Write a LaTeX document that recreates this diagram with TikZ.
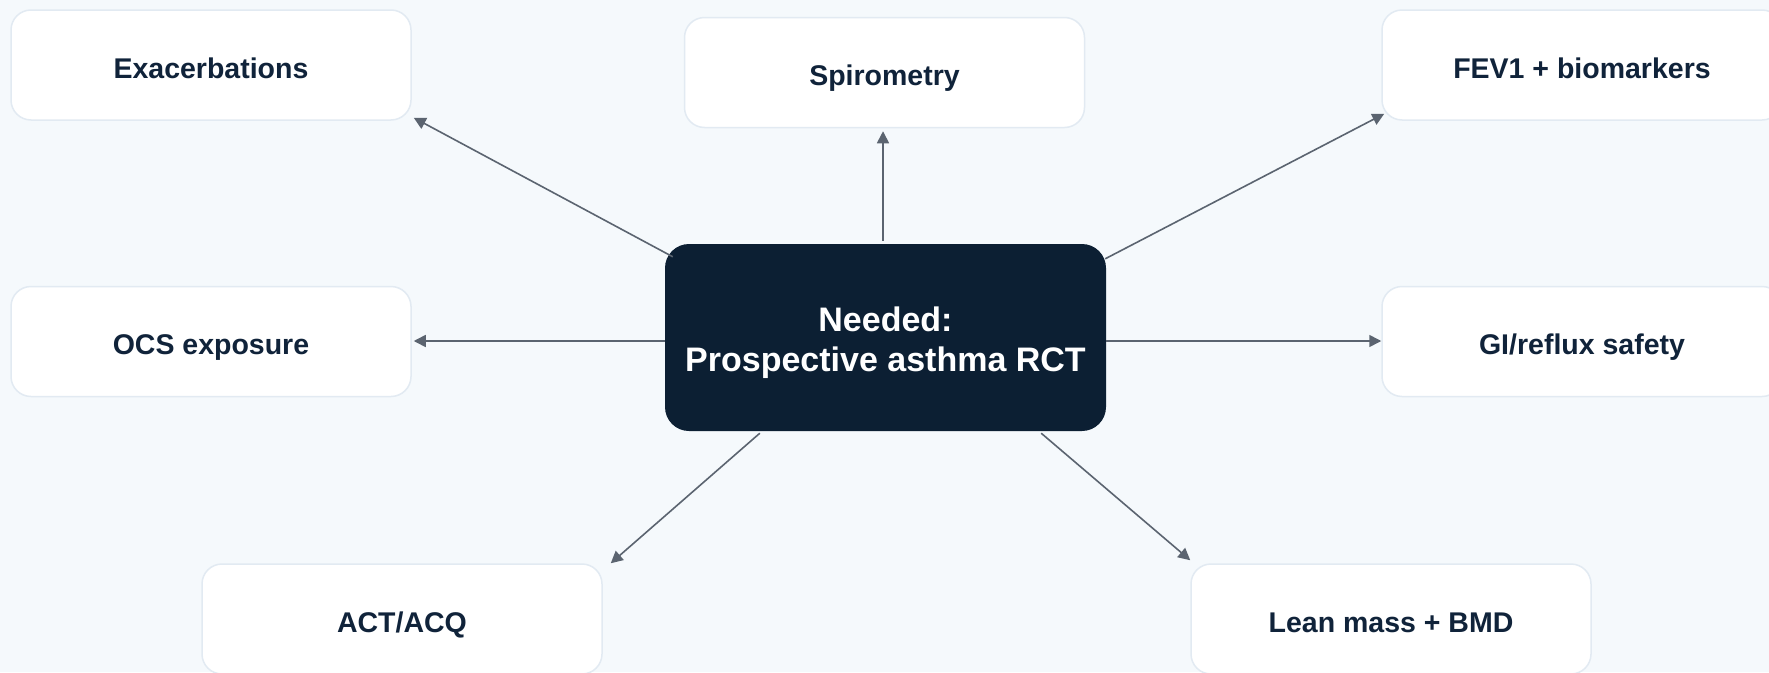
\documentclass[tikz,border=0pt]{standalone}
\usepackage{fontspec}
\setmainfont{Liberation Sans}
\usetikzlibrary{arrows.meta,calc}
\definecolor{bg}{HTML}{F5F9FC}
\definecolor{boxborder}{HTML}{E2EAF2}
\definecolor{navy}{HTML}{0C1F33}
\definecolor{txt}{HTML}{10233A}
\definecolor{arr}{HTML}{5B6470}
\tikzset{
  outbox/.style={draw=boxborder, line width=1.5pt, fill=white, rounded corners=20pt,
    minimum width=400pt, minimum height=110pt, inner sep=0pt, text=txt,
    text height=26pt, text depth=0pt,
    font=\fontsize{28.5}{34}\selectfont\bfseries, align=center},
  hub/.style={fill=navy, rounded corners=24pt, minimum width=441pt, minimum height=187pt,
    inner sep=0pt, text=white, font=\fontsize{34}{40}\selectfont\bfseries, align=center},
  link/.style={draw=arr, line width=1.6pt, -{Triangle[length=12pt,width=12pt]}}
}
\begin{document}
\begin{tikzpicture}[x=1pt,y=-1pt]
\fill[bg] (0,0) rectangle (1769,672);
\useasboundingbox (0,0) rectangle (1769,672);
\node[hub] (c) at (885.5,337.5) {\rule{0pt}{35pt}Needed:\\Prospective asthma RCT};
\node[outbox] (ex) at (211,65) {Exacerbations};
\node[outbox] (sp) at (884.5,72.5) {Spirometry};
\node[outbox] (fev) at (1582,65) {FEV1 + biomarkers};
\node[outbox] (ocs) at (211,341.5) {OCS exposure};
\node[outbox] (gi) at (1582,341.5) {GI/reflux safety};
\node[outbox] (act) at (402,619) {ACT/ACQ};
\node[outbox] (lean) at (1391,619) {Lean mass + BMD};
\draw[link] ($(c.north west)+(8,13)$) -- ($(ex.south east)+(2,-3)$);
\draw[link] ($(c.north)+(-2.5,-3)$) -- ($(sp.south)+(-1.5,3)$);
\draw[link] ($(c.north east)+(-1,15)$) -- ($(fev.south west)+(3,-7)$);
\draw[link] ($(c.west)+(0,3.5)$) -- ($(ocs.east)+(2,-0.5)$);
\draw[link] ($(c.east)+(0,3.5)$) -- ($(gi.west)+(0,-0.5)$);
\draw[link] ($(c.south west)+(95,2)$) -- ($(act.north east)+(8,0)$);
\draw[link] ($(c.south east)+(-65,2)$) -- ($(lean.north west)+(0,-3)$);
\end{tikzpicture}
\end{document}
